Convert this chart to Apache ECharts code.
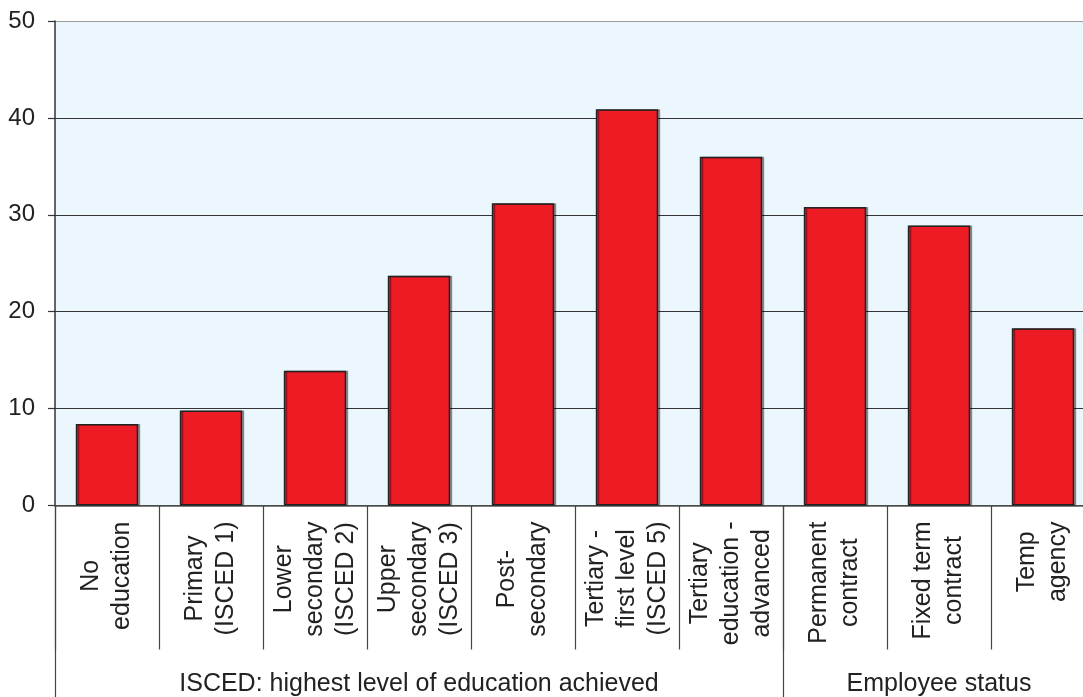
<!DOCTYPE html>
<html>
<head>
<meta charset="utf-8">
<script src="https://cdn.jsdelivr.net/npm/echarts@6/dist/echarts.min.js"></script>
<style>
html,body{margin:0;padding:0;overflow:hidden;background:#fff;}
#chart{width:1095px;height:697px;}
</style>
</head>
<body>
<div id="chart"></div>
<script>
var categories = [
  'No\neducation',
  'Primary\n(ISCED 1)',
  'Lower\nsecondary\n(ISCED 2)',
  'Upper\nsecondary\n(ISCED 3)',
  'Post-\nsecondary',
  'Tertiary -\nfirst level\n(ISCED 5)',
  'Tertiary\neducation -\nadvanced',
  'Permanent\ncontract',
  'Fixed term\ncontract',
  'Temp\nagency'
];
var values = [8.4, 9.8, 13.9, 23.7, 31.2, 40.9, 36.0, 30.8, 28.9, 18.3];
var groupLabels = ['', '', '', 'ISCED: highest level of education achieved', '', '', '', '', 'Employee status', ''];
var groupStarts = [0, 7];
var yTicks = [0, 10, 20, 30, 40, 50];

var font = 'Liberation Sans, Arial, sans-serif';
var chart = echarts.init(document.getElementById('chart'));
chart.setOption({
  animation: false,
  grid: {
    left: 55, right: 0, top: 21, bottom: 191.5,
    show: true, borderWidth: 0, backgroundColor: '#EBF6FD'
  },
  xAxis: [{
    type: 'category',
    data: categories,
    position: 'bottom',
    axisLine: { show: true, lineStyle: { color: '#555', width: 1.5 } },
    axisTick: { show: true, interval: 0, length: 144, lineStyle: { color: '#444', width: 1.2 } },
    axisLabel: {
      interval: 0, rotate: 90, margin: 16,
      formatter: function (v) {
        return v.split('\n').map(function (s) { return '{c|' + s + '}'; }).join('\n');
      },
      rich: { c: { align: 'center', fontSize: 25, lineHeight: 31, fontFamily: font, color: '#222' } }
    }
  }, {
    type: 'category',
    data: groupLabels,
    position: 'bottom',
    axisLine: { show: false },
    axisTick: {
      show: true, length: 192,
      interval: function (i) { return groupStarts.indexOf(i) >= 0; },
      lineStyle: { color: '#444', width: 1.2 }
    },
    axisLabel: { interval: 0, margin: 166, fontSize: 25, fontFamily: font, color: '#222' }
  }],
  yAxis: {
    type: 'value', min: 0, max: 50, interval: 10,
    axisLine: { show: true, lineStyle: { color: '#333', width: 1.5 } },
    axisTick: { show: true, length: 7, lineStyle: { color: '#333', width: 1.2 } },
    axisLabel: {
      margin: 20, fontSize: 24, fontFamily: font, color: '#222',
      formatter: function (v) { return yTicks.indexOf(v) >= 0 ? String(v) : ''; }
    },
    splitLine: { show: true, lineStyle: { color: ['#333', '#333', '#333', '#333', '#333', '#9a9a9a'], width: 1.2 } }
  },
  series: [{
    type: 'bar',
    data: values,
    xAxisIndex: 0,
    barCategoryGap: '40%',
    itemStyle: {
      color: '#ED1C24', borderColor: '#222', borderWidth: 1.5,
      shadowColor: 'rgba(0,0,0,0.35)', shadowOffsetX: 2, shadowOffsetY: 0, shadowBlur: 0
    }
  }]
});
</script>
</body>
</html>
